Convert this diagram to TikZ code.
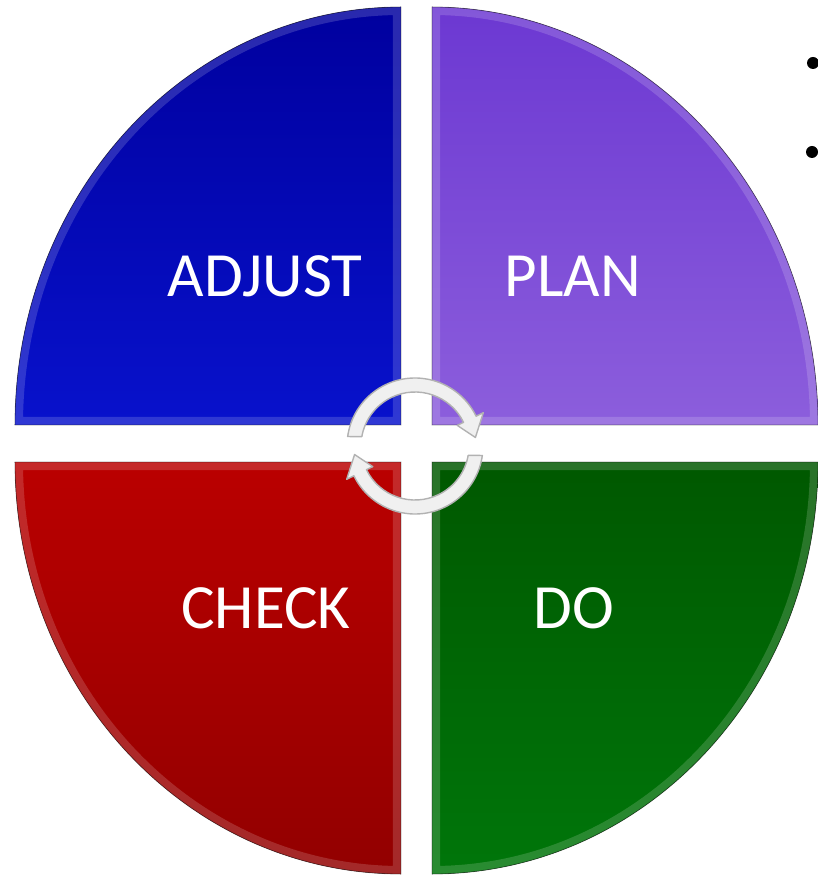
\documentclass[tikz,border=0pt]{standalone}
\usepackage{fontspec}
\setmainfont{Carlito}
\usepackage{tikz}
\usetikzlibrary{calc}

\definecolor{adjtop}{HTML}{00009E}
\definecolor{adjmid}{HTML}{0000A8}
\definecolor{adjbot}{HTML}{0812CC}
\definecolor{plantop}{HTML}{6C38D2}
\definecolor{planmid}{HTML}{5826B2}
\definecolor{planbot}{HTML}{8C5EDC}
\definecolor{chktop}{HTML}{BA0000}
\definecolor{chkmid}{HTML}{880000}
\definecolor{chkbot}{HTML}{920000}
\definecolor{dotop}{HTML}{005800}
\definecolor{domid}{HTML}{004500}
\definecolor{dobot}{HTML}{00760A}

\def\qadjust{(-15,18) -- (-401,18) arc[start angle=180,end angle=90,x radius=386pt,y radius=418pt] -- cycle}
\def\qplan{(16,18) -- (16,436) arc[start angle=90,end angle=0,x radius=386pt,y radius=418pt] -- cycle}
\def\qcheck{(-15,-19) -- (-401,-19) arc[start angle=180,end angle=270,x radius=386pt,y radius=412pt] -- cycle}
\def\qdo{(16,-19) -- (402,-19) arc[start angle=0,end angle=-90,x radius=386pt,y radius=412pt] -- cycle}

\begin{document}
\begin{tikzpicture}[x=1pt,y=1pt,
	bevel/.style={white,opacity=.16,line width=16pt},
	rim/.style={black,opacity=.4,line width=.8pt},
	lbl/.style={text=white,inner sep=0,font=\fontsize{63}{75}\selectfont},
	cyclearrow/.style={fill=gray!12,draw=gray!60,line width=1.4pt,line join=round},
	bulletdot/.style={circle,fill=black,inner sep=0,minimum size=12pt}]
	\useasboundingbox (-416,-435) rectangle (402,443);

	\fill[top color=adjtop,middle color=adjmid,bottom color=adjbot] \qadjust;
	\fill[top color=plantop,middle color=planmid,bottom color=planbot] \qplan;
	\fill[top color=chktop,middle color=chkmid,bottom color=chkbot] \qcheck;
	\fill[top color=dotop,middle color=domid,bottom color=dobot] \qdo;

	\begin{scope} \clip \qadjust; \draw[bevel] \qadjust; \end{scope}
	\begin{scope} \clip \qplan; \draw[bevel] \qplan; \end{scope}
	\begin{scope} \clip \qcheck; \draw[bevel] \qcheck; \end{scope}
	\begin{scope} \clip \qdo; \draw[bevel] \qdo; \end{scope}
	\draw[rim] \qadjust;
	\draw[rim] \qplan;
	\draw[rim] \qcheck;
	\draw[rim] \qdo;

	\node[lbl] (adjust) at (-151,167) {ADJUST};
	\node[lbl] (plan) at (157,167) {PLAN};
	\node[lbl] (check) at (-150,-165) {CHECK};
	\node[lbl] (do) at (158,-165) {DO};

	\begin{scope}[shift={(-1,-3)}]
		\draw[cyclearrow] (172:68) arc[start angle=172,end angle=26,radius=68pt] -- (26:76) -- (8:61) -- (26:47) -- (26:54) arc[start angle=26,end angle=170,radius=54pt] -- cycle;
		\draw[cyclearrow,rotate=180] (172:68) arc[start angle=172,end angle=26,radius=68pt] -- (26:76) -- (8:61) -- (26:47) -- (26:54) arc[start angle=26,end angle=170,radius=54pt] -- cycle;
	\end{scope}

	\node[bulletdot] (b1) at (397,380) {};
	\node[bulletdot] (b2) at (396,291) {};
\end{tikzpicture}
\end{document}
